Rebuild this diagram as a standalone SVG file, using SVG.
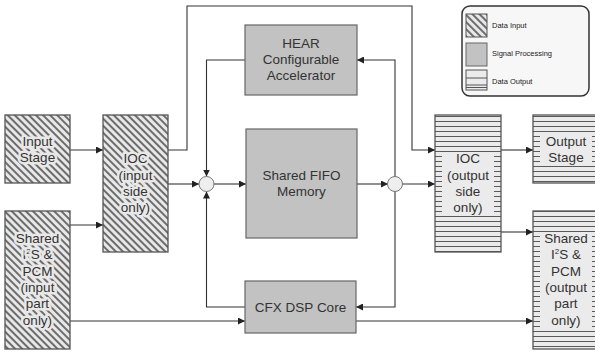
<svg xmlns="http://www.w3.org/2000/svg" width="595" height="354" viewBox="0 0 595 354">
  <defs>
    <!-- diagonal hatching for input blocks -->
    <pattern id="hatch" patternUnits="userSpaceOnUse" width="5" height="5" patternTransform="rotate(45)">
      <rect width="5" height="5" fill="#e8e8e8"/>
      <line x1="0" y1="1" x2="5" y2="1" stroke="#444" stroke-width="1.5"/>
    </pattern>
    <!-- horizontal ruling for output blocks -->
    <pattern id="rule" patternUnits="userSpaceOnUse" x="0" y="1" width="6" height="5">
      <rect width="6" height="5" fill="#ebebeb"/>
      <line x1="0" y1="0.5" x2="6" y2="0.5" stroke="#5a5a5a" stroke-width="1"/>
    </pattern>
    <marker id="arr" viewBox="0 0 10 10" refX="10" refY="5" markerWidth="7" markerHeight="7" orient="auto" markerUnits="userSpaceOnUse">
      <path d="M0,0 L10,5 L0,10 z" fill="#222"/>
    </marker>
    <style>
      text { font-family: "Liberation Sans", Arial, sans-serif; fill: #333; text-anchor: middle; }
      .lbl { font-size: 13.5px; }
      .in rect.b { fill: url(#hatch); stroke: #555; stroke-width: 1.3; }
      .in text { stroke: #e8e8e8; stroke-width: 5; paint-order: stroke; stroke-linejoin: round; }
      .out rect.b { fill: url(#rule); stroke: #555; stroke-width: 1.3; }
      .out rect.k { fill: #ebebeb; }
      .proc rect { fill: #c2c2c2; stroke: #666; stroke-width: 1.2; }
      .wire { fill: none; stroke: #333; stroke-width: 1.1; }
      .junc { fill: #eeeeee; stroke: #777; stroke-width: 1; }
      .leg { font-size: 7.5px; text-anchor: start; fill: #222; }
    </style>
  </defs>

  <rect width="595" height="354" fill="#ffffff"/>

  <!-- connectors -->
  <g id="connectors">
    <path class="wire" d="M70,150 H103" marker-end="url(#arr)"/>
    <path class="wire" d="M70,225 H103" marker-end="url(#arr)"/>
    <path class="wire" d="M70,321 H245" marker-end="url(#arr)"/>
    <path class="wire" d="M168,150 H187 V6 H412 V150 H435" marker-end="url(#arr)"/>
    <path class="wire" d="M168,184 H199" marker-end="url(#arr)"/>
    <path class="wire" d="M214,184 H246" marker-end="url(#arr)"/>
    <path class="wire" d="M245,60 H206.5 V176.5" marker-end="url(#arr)"/>
    <path class="wire" d="M245,307 H206.5 V191.5" marker-end="url(#arr)"/>
    <path class="wire" d="M357,184 H388" marker-end="url(#arr)"/>
    <path class="wire" d="M402,184 H435" marker-end="url(#arr)"/>
    <path class="wire" d="M395,177 V60 H357" marker-end="url(#arr)"/>
    <path class="wire" d="M395,191 V307 H356" marker-end="url(#arr)"/>
    <path class="wire" d="M501,150 H533" marker-end="url(#arr)"/>
    <path class="wire" d="M501,232 H533" marker-end="url(#arr)"/>
    <path class="wire" d="M356,321 H533" marker-end="url(#arr)"/>
    <circle class="junc" cx="206.5" cy="184" r="7.5"/>
    <circle class="junc" cx="395" cy="184" r="7.5"/>
  </g>

  <!-- input blocks -->
  <g id="input-stage" class="in">
    <rect class="b" x="5" y="115" width="65" height="68"/>
    <text class="lbl" x="37.5" y="146">Input</text>
    <text class="lbl" x="37.5" y="162">Stage</text>
  </g>
  <g id="shared-i2s-in" class="in">
    <rect class="b" x="5" y="211" width="65" height="138"/>
    <text class="lbl" x="37.5" y="243">Shared</text>
    <text class="lbl" x="37.5" y="259">I<tspan dy="-5" font-size="8">2</tspan><tspan dy="5">S &amp;</tspan></text>
    <text class="lbl" x="37.5" y="276">PCM</text>
    <text class="lbl" x="37.5" y="292">(input</text>
    <text class="lbl" x="37.5" y="308">part</text>
    <text class="lbl" x="37.5" y="325">only)</text>
  </g>
  <g id="ioc-in" class="in">
    <rect class="b" x="103" y="115" width="65" height="137"/>
    <text class="lbl" x="135.5" y="163">IOC</text>
    <text class="lbl" x="135.5" y="180">(input</text>
    <text class="lbl" x="135.5" y="196">side</text>
    <text class="lbl" x="135.5" y="212">only)</text>
  </g>

  <!-- processing blocks -->
  <g id="hear" class="proc">
    <rect x="245" y="25" width="112" height="70"/>
    <text class="lbl" x="301" y="48">HEAR</text>
    <text class="lbl" x="301" y="64">Configurable</text>
    <text class="lbl" x="301" y="80">Accelerator</text>
  </g>
  <g id="fifo" class="proc">
    <rect x="246" y="129" width="111" height="109"/>
    <text class="lbl" x="301.5" y="180">Shared FIFO</text>
    <text class="lbl" x="301.5" y="196">Memory</text>
  </g>
  <g id="cfx" class="proc">
    <rect x="245" y="281" width="111" height="52"/>
    <text class="lbl" x="300.5" y="312">CFX DSP Core</text>
  </g>

  <!-- output blocks -->
  <g id="ioc-out" class="out">
    <rect class="b" x="435" y="115" width="66" height="137"/>
    <rect class="k" x="442" y="153" width="52" height="63"/>
    <text class="lbl" x="468" y="163">IOC</text>
    <text class="lbl" x="468" y="180">(output</text>
    <text class="lbl" x="468" y="196">side</text>
    <text class="lbl" x="468" y="212">only)</text>
  </g>
  <g id="output-stage" class="out">
    <rect class="b" x="533" y="115" width="66" height="68"/>
    <rect class="k" x="540" y="134" width="52" height="32"/>
    <text class="lbl" x="566" y="146">Output</text>
    <text class="lbl" x="566" y="162">Stage</text>
  </g>
  <g id="shared-i2s-out" class="out">
    <rect class="b" x="533" y="211" width="66" height="138"/>
    <rect class="k" x="540" y="233" width="52" height="97"/>
    <text class="lbl" x="566" y="243">Shared</text>
    <text class="lbl" x="566" y="259">I<tspan dy="-5" font-size="8">2</tspan><tspan dy="5">S &amp;</tspan></text>
    <text class="lbl" x="566" y="276">PCM</text>
    <text class="lbl" x="566" y="292">(output</text>
    <text class="lbl" x="566" y="308">part</text>
    <text class="lbl" x="566" y="325">only)</text>
  </g>

  <!-- legend -->
  <g id="legend">
    <rect x="462" y="6" width="127" height="90" rx="8" fill="#f7f7f7" stroke="#333" stroke-width="1.5"/>
    <rect x="466" y="14" width="21" height="23" fill="url(#hatch)" stroke="#555" stroke-width="1"/>
    <text class="leg" x="492" y="28">Data Input</text>
    <rect x="466" y="43" width="21" height="23" fill="#c2c2c2" stroke="#666" stroke-width="1"/>
    <text class="leg" x="492" y="56">Signal Processing</text>
    <rect x="466" y="70" width="21" height="20" fill="#ebebeb" stroke="#555" stroke-width="1"/>
    <path d="M466,78 H487 M466,85 H487 M466,87.5 H487" stroke="#555" stroke-width="1" fill="none"/>
    <text class="leg" x="492" y="84">Data Output</text>
  </g>
</svg>
